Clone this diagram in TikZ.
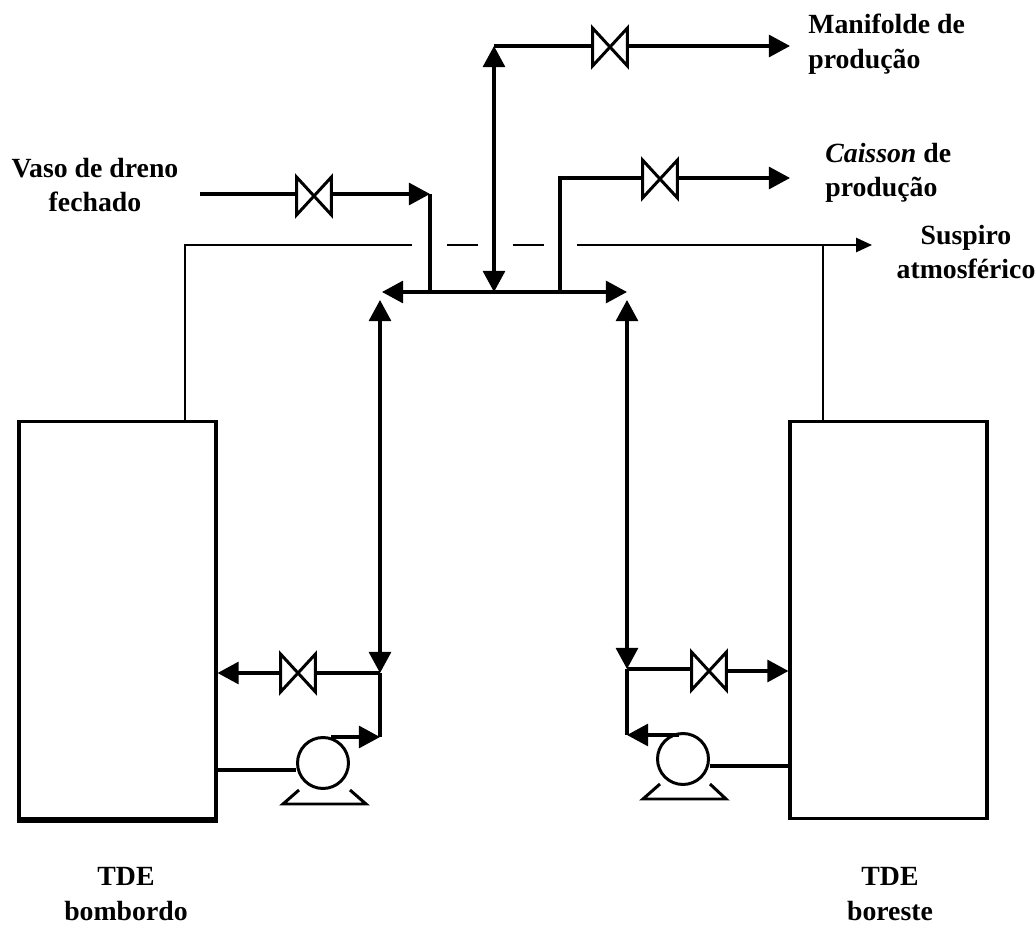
\documentclass[tikz,border=0pt]{standalone}
\usepackage{fontspec}
\setmainfont{Liberation Serif}
\usetikzlibrary{arrows.meta}
\tikzset{
  pipe/.style={line width=1.8pt},
  vent/.style={line width=1.1pt},
  tip/.style={-{Triangle[length=12pt,width=12.5pt]}},
  tiptip/.style={{Triangle[length=12pt,width=12.5pt]}-{Triangle[length=12pt,width=12.5pt]}},
  tank/.style={draw,line width=1.8pt,minimum width=3.94cm,minimum height=7.94cm,inner sep=0pt},
  valve/.style={minimum width=.68cm,minimum height=.74cm,inner sep=0pt},
  bowtie/.style={line width=1.7pt,line join=miter},
  pump/.style={draw,circle,line width=1.7pt,minimum size=1.02cm,inner sep=0pt},
  label/.style={font=\fontsize{15.8}{19.6}\selectfont\bfseries,align=#1,inner sep=0pt},
  label/.default=center
}
\begin{document}
\begin{tikzpicture}[x=.02cm,y=-.02cm]
\useasboundingbox (0,0) rectangle (1036,926);
\node[tank] (tankB) at (117.5,620) {};
\node[tank] (tankE) at (888.5,620) {};
\draw[line width=3.4pt] (tankB.south west)--(tankB.south east);
\foreach \name/\pos in {vTop/{(610,47)},vDrain/{(314,196)},vCais/{(660,179)},vB/{(298,673)},vE/{(709,671)}}{
  \node[valve] (\name) at \pos {};
  \draw[bowtie] (\name.north west)--(\name.south east)--(\name.north east)--(\name.south west)--cycle;
}
\node[pump] (pB) at (323,763) {};
\node[pump] (pE) at (683,759) {};
\draw[line width=1.7pt] (pB.center)+(-24,27)--+(-40,41)--+(43,41)--+(27,27);
\draw[line width=1.7pt] (pE.center)+(-23,25)--+(-40,40)--+(43,40)--+(27,25);
\coordinate (topL) at (494,46);
\coordinate (topR) at (790,46);
\coordinate (busM) at (494,292);
\coordinate (busL) at (382,292);
\coordinate (busR) at (627,292);
\coordinate (busA) at (430,292);
\coordinate (busC) at (560,292);
\coordinate (drnS) at (200,194);
\coordinate (drnE) at (430,194);
\coordinate (caiC) at (560,178);
\coordinate (caiE) at (790,178);
\coordinate (legLt) at (380,300);
\coordinate (legLb) at (380,673);
\coordinate (legLp) at (380,737);
\coordinate (legRt) at (627,300);
\coordinate (legRb) at (627,669);
\coordinate (legRp) at (627,735);
\draw[pipe,tiptip] (busM)--(topL);
\draw[pipe] (topL)--(topL-|vTop.west);
\draw[pipe,tip] (topL-|vTop.east)--(topR);
\draw[pipe] (drnS)--(drnS-|vDrain.west);
\draw[pipe,tip] (drnS-|vDrain.east)--(drnE);
\draw[pipe] (drnE)--(busA);
\draw[pipe] (busC)--(caiC)--(caiC-|vCais.west);
\draw[pipe,tip] (caiC-|vCais.east)--(caiE);
\draw[pipe,tiptip] (busL)--(busR);
\draw[pipe,tiptip] (legLt)--(legLb);
\draw[pipe,tiptip] (legRt)--(legRb);
\draw[pipe] (legLb)--(vB.east);
\draw[pipe,tip] (vB.west)--(tankB.east|-vB);
\draw[pipe] (legRb)--(legRb-|vE.west);
\draw[pipe,tip] (vE.east)--(tankE.west|-vE);
\draw[pipe] (legLb)--(legLp);
\draw[pipe] (legRb)--(legRp);
\draw[pipe,tip] (pB.center)+(8,-26)--(legLp);
\draw[pipe,tip] (pE.center)+(-4,-24)--(legRp);
\draw[pipe] (tankB.east|-0,770)--(pB.west|-0,770);
\draw[pipe] (pE.east|-0,766)--(tankE.west|-0,766);
\coordinate (ventL) at (185,245);
\coordinate (ventA) at (412,245);
\coordinate (ventB) at (447,245);
\coordinate (ventC) at (544,245);
\coordinate (ventD) at (577,245);
\coordinate (ventE) at (872,245);
\coordinate (ventR) at (823,245);
\draw[vent] (tankB.north-|ventL)--(ventL)--(ventA);
\draw[vent,dash pattern=on 17.6pt off 19.8pt] (ventB)--(ventC);
\draw[vent,-{Triangle[length=9pt,width=8pt]}] (ventD)--(ventE);
\draw[vent] (ventR)--(tankE.north-|ventR);
\node[label] (lblDrain) at (95,185) {Vaso de dreno\\fechado};
\node[label=left,anchor=west] (lblMani) at (808,44) {Manifolde de\\produção};
\node[label=left,anchor=west] (lblCais) at (825,173) {\textit{Caisson} de\\produção};
\node[label] (lblVent) at (966,252) {Suspiro\\atmosférico};
\node[label] (lblB) at (126,894) {TDE\\bombordo};
\node[label] (lblE) at (890,894) {TDE\\boreste};
\end{tikzpicture}
\end{document}
